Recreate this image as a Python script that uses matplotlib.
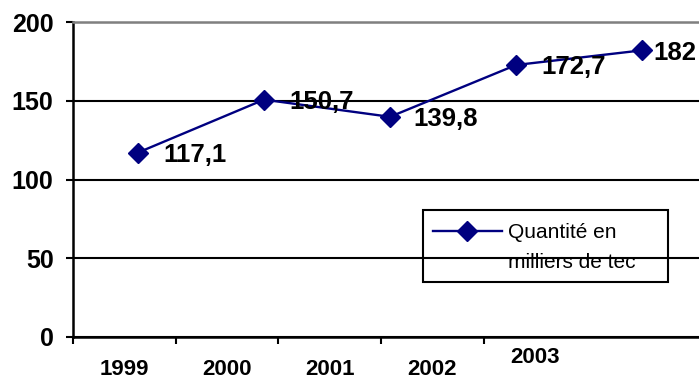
import matplotlib
matplotlib.use("Agg")
import matplotlib.pyplot as plt
import numpy as np
from matplotlib.lines import Line2D
from matplotlib.patches import Rectangle
from matplotlib.transforms import ScaledTranslation

plt.rcParams['font.family'] = ['Liberation Sans', 'DejaVu Sans']

# Data
years = ['1999', '2000', '2001', '2002', '2003']
quantities = [117.1, 150.7, 139.8, 172.7, 182.0]
series_label = ['Quantité en', 'milliers de tec']

navy = '#000080'

fig = plt.figure(figsize=(6.99, 3.84), dpi=100)
ax = fig.add_axes([73 / 699, 1 - 337 / 384, 626 / 699, 315 / 384])

x = np.arange(len(years))
line, = ax.plot(x, quantities, color=navy, lw=1.7, marker='D', ms=10,
                mec=navy, mfc=navy, zorder=3)

# value labels, comma as decimal separator
label_dx = [25, 25, 23, 25, 11]
for xi, v, dx in zip(x, quantities, label_dx):
    txt = f'{v:.0f}' if v == int(v) else f'{v:.1f}'.replace('.', ',')
    ax.annotate(txt, (xi, v), xytext=(dx, 0), textcoords='offset pixels',
                ha='left', va='center_baseline', fontsize=18.5, fontweight='bold',
                zorder=4, annotation_clip=False)

# category slots are narrower than the spacing of the points
x0, slot = -0.516, 0.815
ax.set_xlim(x0, 4.452)
ax.set_ylim(0, 200)

ax.set_xticks(x0 + slot * np.arange(len(years)))
ax.set_xticklabels([])
ax.set_xticks(x0 + slot * (np.arange(len(years)) + 0.5), minor=True)
ax.set_xticklabels(years, minor=True)
ax.tick_params(axis='x', which='major', direction='out', length=5, width=1.5)
ax.tick_params(axis='x', which='minor', length=0, pad=16, labelsize=16)
for lab in ax.xaxis.get_minorticklabels():
    lab.set_fontweight('bold')
last = ax.xaxis.get_minorticklabels()[-1]
last.set_transform(last.get_transform() + ScaledTranslation(0, 12 / 100, fig.dpi_scale_trans))

ax.set_yticks([0, 50, 100, 150, 200])
ax.set_yticklabels(['0', '50', '100', '150', '200'])
ax.tick_params(axis='y', direction='out', length=5, width=1.5, pad=9, labelsize=18)
for lab in ax.get_yticklabels():
    lab.set_fontweight('bold')

ax.yaxis.grid(True, color='black', lw=1.5)
ax.set_axisbelow(True)
for side in ['left', 'bottom']:
    ax.spines[side].set_color('black')
    ax.spines[side].set_linewidth(1.8)
ax.spines['top'].set_color('#808080')
ax.spines['top'].set_linewidth(1.8)
ax.spines['right'].set_visible(False)

# legend box, transparent so the grid shows through
fig.patches.append(Rectangle((423 / 699, 1 - 282 / 384), 245 / 699, 72 / 384,
                             transform=fig.transFigure, fill=False,
                             edgecolor='black', lw=1.5, zorder=5))
blank = Line2D([], [], lw=0)
leg = fig.legend(handles=[line, blank], labels=series_label, loc='upper left',
                 bbox_to_anchor=(433 / 699, 1 - 223 / 384),
                 frameon=False, fontsize=15, handlelength=3.3,
                 handletextpad=0.3, borderaxespad=0, borderpad=0,
                 labelspacing=0.55)

fig.savefig('out.png', dpi=100)
